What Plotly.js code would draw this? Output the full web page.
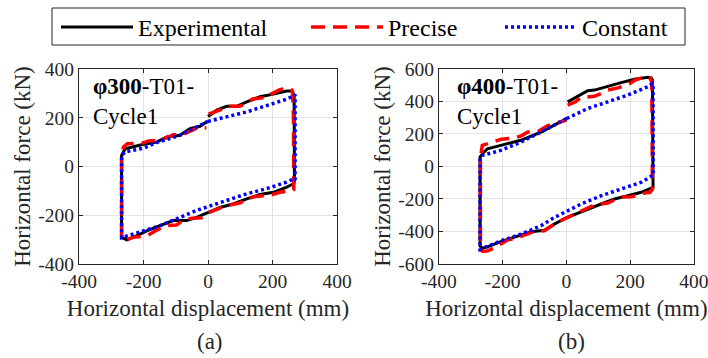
<!DOCTYPE html>
<html>
<head>
<meta charset="utf-8">
<script src="https://cdn.plot.ly/plotly-3.0.1.min.js"></script>
<style>html,body{margin:0;padding:0;background:#fff;}#chart{width:708px;height:358px;}</style>
</head>
<body>
<div id="chart"></div>
<script>
// ---- Data ----
// Panel (a): phi300-T01-Cycle1
const expA_x = [0, 27, 58, 89, 120, 161, 203, 244, 260, 267, 268, 266, 254, 244, 203, 161, 120, 78, 37, 1, -35, -66, -108, -149, -190, -232, -252, -268, -268, -257, -231, -200, -159, -128, -87, -56, -25, -3];
const expA_y = [205, 231, 247, 247, 265, 286, 297, 310, 310, 292, -60, -71, -78, -85, -106, -115, -133, -154, -168, -188, -209, -222, -222, -243, -264, -291, -301, -291, 45, 73, 82, 91, 100, 121, 128, 155, 165, 185];
const preA_x = [2, 30, 68, 98, 120, 140, 170, 200, 223, 244, 254, 262, 265, 266, 255, 244, 223, 200, 170, 140, 120, 98, 58, 30, 0, -20, -50, -75, -98, -128, -160, -190, -232, -255, -262, -268, -268, -262, -250, -225, -200, -185, -150, -125, -108, -77, -50, -30, -5];
const preA_y = [215, 228, 247, 247, 260, 278, 282, 300, 315, 320, 322, 310, 200, -95, -100, -102, -106, -115, -120, -125, -135, -150, -160, -175, -190, -210, -212, -220, -240, -242, -262, -285, -290, -303, -305, -295, 40, 80, 93, 95, 97, 105, 107, 120, 130, 132, 148, 160, 158];
const conA_x = [0, 58, 120, 182, 244, 265, 270, 270, 265, 244, 182, 120, 58, 0, -35, -87, -149, -200, -252, -268, -268, -257, -200, -159, -87, -25, 0];
const conA_y = [185, 205, 224, 250, 276, 290, 295, -55, -51, -64, -91, -112, -140, -165, -180, -209, -243, -264, -284, -292, 45, 60, 75, 98, 128, 168, 185];

// Panel (b): phi400-T01-Cycle1
const expB_x = [4, 46, 67, 88, 130, 172, 214, 256, 266, 270, 272, 261, 235, 193, 151, 109, 67, 25, 1, -38, -69, -111, -164, -206, -248, -264, -271, -271, -258, -248, -206, -143, -80, -38, 1];
const expB_y = [398, 440, 466, 470, 495, 516, 537, 549, 545, 532, -128, -138, -159, -180, -200, -231, -262, -293, -314, -355, -392, -402, -437, -462, -495, -503, -489, 58, 89, 109, 130, 161, 212, 254, 295];
const preB_x = [4, 30, 46, 70, 88, 110, 130, 162, 190, 214, 250, 262, 268, 270, 262, 256, 230, 204, 172, 150, 130, 88, 60, 35, 4, -30, -69, -101, -130, -153, -185, -216, -248, -264, -270, -270, -264, -237, -204, -163, -140, -121, -89, -60, -21, 0];
const preB_y = [377, 400, 425, 432, 432, 450, 470, 484, 500, 530, 556, 545, 520, -140, -160, -159, -170, -186, -188, -205, -225, -236, -262, -290, -314, -345, -395, -400, -420, -440, -452, -490, -520, -522, -510, 50, 130, 145, 168, 175, 190, 212, 215, 250, 275, 285];
const conB_x = [1, 67, 130, 193, 256, 270, 272, 272, 270, 235, 172, 109, 46, 1, -38, -80, -143, -206, -264, -271, -271, -264, -206, -143, -80, 1];
const conB_y = [295, 357, 398, 440, 491, 512, 500, -56, -56, -97, -138, -180, -231, -273, -314, -365, -417, -458, -500, -510, 50, 68, 99, 150, 212, 295];

const seriesNames = ['Experimental', 'Precise', 'Constant'];
const panelLabels = ['(a)', '(b)'];
const specimenLabels = ['<b>φ300</b>-T01-<br>Cycle1', '<b>φ400</b>-T01-<br>Cycle1'];
const xTicks = [-400, -200, 0, 200, 400];
const xTickText = ['-400', '-200', '0', '200', '400'];
const yTicksA = [-400, -200, 0, 200, 400];
const yTickTextA = ['-400', '-200', '0', '200', '400'];
const yTicksB = [-600, -400, -200, 0, 200, 400, 600];
const yTickTextB = ['-600', '-400', '-200', '0', '200', '400', '600'];

// ---- Styles ----
const FONT = '"Liberation Serif", "Times New Roman", serif';
const TXT = '#262626';
const styles = [
  {color: 'black', width: 3, dash: 'solid', legend: 'legend'},
  {color: '#ff0000', width: 3.5, dash: '14px,8px', legend: 'legend'},
  {color: '#0000ff', width: 3.5, dash: '3px,3px', legend: 'legend2'}
];

function tr(x, y, i, xa, ya, show) {
  return {x: x, y: y, type: 'scatter', mode: 'lines', name: seriesNames[i],
    xaxis: xa, yaxis: ya, showlegend: show, legend: styles[i].legend, hoverinfo: 'skip',
    line: {color: styles[i].color, width: styles[i].width, dash: styles[i].dash}};
}

const data = [
  tr(expA_x, expA_y, 0, 'x', 'y', true),
  tr(preA_x, preA_y, 1, 'x', 'y', true),
  tr(conA_x, conA_y, 2, 'x', 'y', true),
  tr(expB_x, expB_y, 0, 'x2', 'y2', false),
  tr(preB_x, preB_y, 1, 'x2', 'y2', false),
  tr(conB_x, conB_y, 2, 'x2', 'y2', false)
];

function xax(domain, anchor) {
  return {domain: domain, anchor: anchor, range: [-400, 400], tickvals: xTicks, ticktext: xTickText,
    ticks: 'inside', ticklen: 4, tickcolor: TXT, showline: true, linecolor: TXT, linewidth: 1,
    mirror: 'ticks', showgrid: true, gridcolor: '#e3e3e3', gridwidth: 1, zeroline: false,
    ticklabeloverflow: 'allow',
    tickfont: {family: FONT, size: 19.5, color: TXT},
    title: {text: 'Horizontal displacement (mm)', font: {family: FONT, size: 23, color: TXT}, standoff: 8}};
}
function yax(range, ticks, ticktext, anchor) {
  return {domain: [0.2626, 0.8073], anchor: anchor, range: range, tickvals: ticks, ticktext: ticktext,
    ticks: 'inside', ticklen: 4, tickcolor: TXT, showline: true, linecolor: TXT, linewidth: 1,
    mirror: 'ticks', showgrid: true, gridcolor: '#e3e3e3', gridwidth: 1, zeroline: false,
    tickfont: {family: FONT, size: 19.5, color: TXT},
    title: {text: 'Horizontal force (kN)', font: {family: FONT, size: 23, color: TXT}, standoff: 1}};
}

const legendCommon = {orientation: 'h', yanchor: 'top', y: 1 - 5/358, xanchor: 'left',
  font: {family: FONT, size: 24, color: 'black'}, borderwidth: 0, bgcolor: 'rgba(0,0,0,0)',
  itemwidth: 72};

const layout = {
  width: 708, height: 358,
  margin: {l: 0, r: 0, t: 0, b: 0},
  paper_bgcolor: '#fff', plot_bgcolor: '#fff',
  font: {family: FONT, color: TXT},
  xaxis: xax([0.1116, 0.476], 'y'),
  yaxis: yax([-400, 400], yTicksA, yTickTextA, 'x'),
  xaxis2: xax([0.620, 0.980], 'y2'),
  yaxis2: yax([-600, 600], yTicksB, yTickTextB, 'x2'),
  showlegend: true,
  legend: Object.assign({}, legendCommon, {x: 56/708, entrywidth: 163}),
  legend2: Object.assign({}, legendCommon, {x: 500/708}),
  shapes: [
    {type: 'rect', xref: 'paper', yref: 'paper', x0: 52/708, x1: 685/708, y0: 1 - 45/358, y1: 1 - 8/358,
      line: {color: '#262626', width: 1}, fillcolor: 'rgba(0,0,0,0)', layer: 'above'}
  ],
  annotations: [
    {xref: 'paper', yref: 'paper', x: 91/708, y: 1 - 72/358, xanchor: 'left', yanchor: 'top',
      text: specimenLabels[0], showarrow: false, align: 'left', font: {family: FONT, size: 23, color: 'black'}},
    {xref: 'paper', yref: 'paper', x: 455/708, y: 1 - 72/358, xanchor: 'left', yanchor: 'top',
      text: specimenLabels[1], showarrow: false, align: 'left', font: {family: FONT, size: 23, color: 'black'}},
    {xref: 'paper', yref: 'paper', x: 210/708, y: 1 - 341/358, xanchor: 'center', yanchor: 'middle',
      text: panelLabels[0], showarrow: false, font: {family: FONT, size: 23, color: TXT}},
    {xref: 'paper', yref: 'paper', x: 571/708, y: 1 - 341/358, xanchor: 'center', yanchor: 'middle',
      text: panelLabels[1], showarrow: false, font: {family: FONT, size: 23, color: TXT}}
  ]
};

Plotly.newPlot('chart', data, layout, {staticPlot: true, displayModeBar: false});
</script>
</body>
</html>
